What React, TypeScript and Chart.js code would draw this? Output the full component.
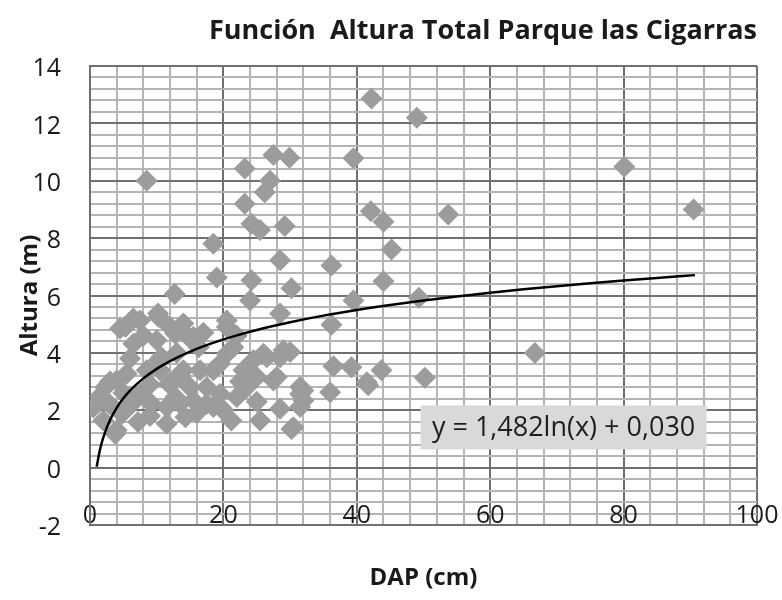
import React, { useEffect, useRef } from "react";
import { Chart, registerables } from "chart.js";

Chart.register(...registerables);

const chartTitle = "Función  Altura Total Parque las Cigarras";
const xAxisTitle = "DAP (cm)";
const yAxisTitle = "Altura (m)";
const equationText = "y = 1,482ln(x) + 0,030";

// Trend line coefficients (y = a ln(x) + b)
const trendA = 1.482;
const trendB = 0.03;
const trendXs = [1, 1.5, 2, 3, 4, 5, 6, 8, 10, 12, 15, 18, 22, 26, 30, 35, 40, 45, 50, 55, 60, 65, 70, 75, 80, 85, 90.7];

// Axis ticks
const xMajorTicks = [0, 20, 40, 60, 80, 100];
const xMinorStep = 4;
const yMajorTicks = [-2, 0, 2, 4, 6, 8, 10, 12, 14];
const yMinorStep = 0.4;

// Observed data: DAP (cm)
const dap = [
  8.5, 42.2, 49, 23.2, 27.5, 29.9, 39.5, 27, 26.2, 23.2, 24.2, 25.5, 29.2, 18.5, 42.1, 44, 80.1, 53.7, 90.5, 45.2,
  28.5, 36.2, 44, 49.3, 66.7, 50.2, 43.7, 41.7, 39.2, 36.5, 36, 39.5, 36.2, 19, 24.2, 30.2, 12.7, 24, 28.5,
  6.5, 4.5, 6.5, 10.2, 12, 14, 15.5, 10, 20.5, 22, 20.5, 10.7, 14, 13.5, 20.5, 24.5, 26.5, 28.5, 30, 41.5,
  28, 31.5, 32, 28.5, 30.2, 25.5, 21.2, 19.5, 17.5, 15.5, 11.5, 7.2, 4, 2, 0.5, 4, 5.5, 7.5, 9.2, 11.5,
  13.5, 15, 17.5, 19.5, 22, 23.5, 25, 23, 18.5, 16.5, 12.5, 10.5, 8.5, 19.5, 5.3, 7.5, 10.3, 12.8, 14.8,
  16.3, 10.3, 2.3, 4.8, 3.8, 14.3, 6.3, 12.8, 11.8, 21.5, 26, 29, 27.5, 31.5, 30.5, 18.5, 31.5, 32, 3,
  1.5, 5, 3, 9, 16, 6, 8, 9, 22.5, 20, 17, 13, 25,
];

// Observed data: Altura (m)
const altura = [
  10.0, 12.87, 12.2, 10.43, 10.9, 10.8, 10.78, 10.0, 9.6, 9.2, 8.5, 8.28, 8.42, 7.8, 8.94, 8.57, 10.49, 8.82, 9.0, 7.6,
  7.23, 7.05, 6.5, 5.92, 4.0, 3.13, 3.39, 2.87, 3.5, 3.53, 2.63, 5.83, 4.98, 6.63, 6.53, 6.25, 6.05, 5.83, 5.37,
  5.2, 4.85, 4.32, 5.37, 4.9, 5.02, 4.55, 4.44, 4.9, 4.6, 5.13, 3.85, 3.39, 3.2, 3.97, 3.74, 3.85, 3.85, 4.03, 2.98,
  3.16, 2.81, 2.34, 2.05, 1.35, 1.64, 1.64, 2.11, 2.23, 2.34, 1.53, 1.59, 1.3, 1.64, 2.1, 3.04, 3.27, 2.57, 2.23, 2.11,
  2.23, 2.8, 2.8, 2.57, 2.46, 2.8, 3.16, 3.39, 3.39, 3.39, 3.04, 3.39, 3.39, 3.62, 4.9, 5.13, 5.25, 4.67, 4.55,
  4.2, 3.74, 2.8, 1.88, 1.18, 1.76, 2.23, 2.46, 2.92, 4.2, 3.97, 4.09, 3.04, 2.57, 1.41, 2.11, 2.11, 2.69, 2.2,
  2.5, 2.6, 3.0, 1.8, 1.9, 3.8, 4.6, 2.9, 3.0, 2.0, 4.7, 4.0, 2.3,
];

const isMultiple = (v: number, m: number) => Math.abs(v / m - Math.round(v / m)) < 1e-6;

const buildTicks = (majors: number[], step: number) => {
  const min = majors[0];
  const max = majors[majors.length - 1];
  const n = Math.round((max - min) / step);
  const out: { value: number }[] = [];
  for (let i = 0; i <= n; i++) out.push({ value: Math.round((min + i * step) * 1000) / 1000 });
  return out;
};

const MAJOR = "#707070";
const MINOR = "#b4b4b4";
const FONT = "'Open Sans', 'DejaVu Sans', sans-serif";

const equationPlugin = {
  id: "equationBox",
  afterDatasetsDraw(chart: any) {
    const { ctx, scales } = chart;
    const cx = scales.x.getPixelForValue(71);
    const cy = scales.y.getPixelForValue(1.4);
    const w = 286;
    const h = 44;
    ctx.save();
    ctx.fillStyle = "#d9d9d9";
    ctx.fillRect(cx - w / 2, cy - h / 2, w, h);
    ctx.fillStyle = "#1e1e1e";
    ctx.font = `27px ${FONT}`;
    ctx.textAlign = "center";
    ctx.textBaseline = "middle";
    ctx.fillText(equationText, cx, cy + 1);
    ctx.restore();
  },
};

export default function App() {
  const ref = useRef<HTMLCanvasElement | null>(null);

  useEffect(() => {
    if (!ref.current) return;
    const points = dap.map((x, i) => ({ x, y: altura[i] }));
    const trend = trendXs.map((x) => ({ x, y: trendA * Math.log(x) + trendB }));

    const chart = new Chart(ref.current, {
      type: "scatter",
      data: {
        datasets: [
          {
            label: "Tendencia",
            data: trend,
            showLine: true,
            borderColor: "#000000",
            borderWidth: 2.5,
            pointRadius: 0,
            cubicInterpolationMode: "monotone",
            fill: false,
          } as any,
          {
            label: "Altura",
            data: points,
            pointStyle: "rectRot",
            pointRadius: 11,
            pointHoverRadius: 11,
            backgroundColor: "#9c9c9c",
            borderWidth: 0,
          },
        ],
      },
      options: {
        animation: false,
        responsive: false,
        devicePixelRatio: 1,
        layout: { padding: { left: 0, right: 25, top: 0, bottom: 0 } },
        plugins: {
          legend: { display: false },
          tooltip: { enabled: false },
          title: {
            display: true,
            text: chartTitle,
            align: "end",
            color: "#1a1a1a",
            font: { family: FONT, size: 27, weight: "bold", lineHeight: 1.2 },
            padding: { top: 15, bottom: 18.6 },
          },
        },
        scales: {
          x: {
            type: "linear",
            min: 0,
            max: 100,
            afterFit: (s: any) => {
              s.height = 75;
            },
            afterBuildTicks: (axis: any) => {
              axis.ticks = buildTicks(xMajorTicks, xMinorStep);
            },
            ticks: {
              autoSkip: false,
              maxRotation: 0,
              mirror: true,
              padding: -6,
              color: "#1a1a1a",
              font: { family: FONT, size: 25 },
              callback: (v: any) => (xMajorTicks.some((m) => Math.abs(m - v) < 1e-6) ? String(v) : ""),
            },
            grid: {
              drawTicks: false,
              lineWidth: 2,
              color: (c: any) => (c.tick && isMultiple(c.tick.value, 20) ? MAJOR : MINOR),
            },
            border: { color: MAJOR, width: 2 },
            title: {
              display: true,
              text: xAxisTitle,
              color: "#1a1a1a",
              font: { family: FONT, size: 24, weight: "bold", lineHeight: 1.2 },
              padding: { top: 0, bottom: 7.6 },
            },
          },
          y: {
            type: "linear",
            min: -2,
            max: 14,
            afterFit: (s: any) => {
              s.width = 90;
            },
            afterBuildTicks: (axis: any) => {
              axis.ticks = buildTicks(yMajorTicks, yMinorStep);
            },
            ticks: {
              autoSkip: false,
              padding: 29,
              labelOffset: 3,
              color: "#1a1a1a",
              font: { family: FONT, size: 25 },
              callback: (v: any) => (yMajorTicks.some((m) => Math.abs(m - v) < 1e-6) ? String(v) : ""),
            },
            grid: {
              drawTicks: false,
              lineWidth: 2,
              color: (c: any) => (c.tick && isMultiple(c.tick.value, 2) ? MAJOR : MINOR),
            },
            border: { color: MAJOR, width: 2 },
            title: {
              display: true,
              text: yAxisTitle,
              color: "#1a1a1a",
              font: { family: FONT, size: 24, weight: "bold", lineHeight: 1.2 },
              padding: { top: 15.6, bottom: 0 },
            },
          },
        },
      },
      plugins: [equationPlugin],
    });
    return () => chart.destroy();
  }, []);

  return (
    <div style={{ position: "fixed", left: 0, top: 0, width: 782, height: 600, background: "#ffffff" }}>
      <canvas ref={ref} width={782} height={600} style={{ display: "block" }} />
    </div>
  );
}
